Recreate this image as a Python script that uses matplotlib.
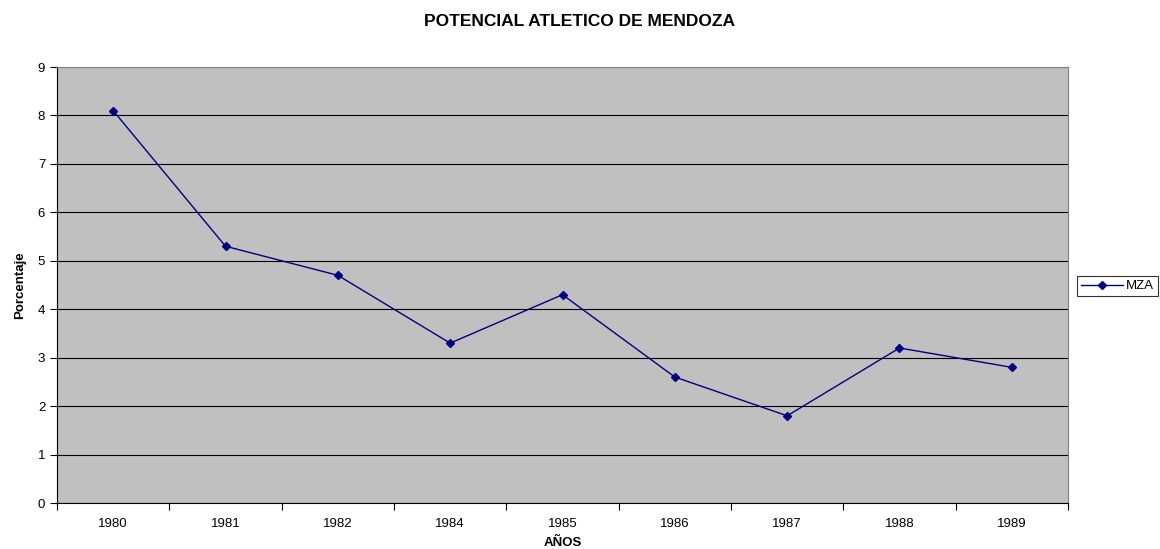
import matplotlib
matplotlib.use("Agg")
import matplotlib.pyplot as plt
import numpy as np

plt.rcParams["font.family"] = ["Liberation Sans", "DejaVu Sans"]

years = ["1980", "1981", "1982", "1984", "1985", "1986", "1987", "1988", "1989"]
mza = [8.1, 5.3, 4.7, 3.3, 4.3, 2.6, 1.8, 3.2, 2.8]

fig = plt.figure(figsize=(11.6, 5.49), dpi=100)
ax = fig.add_axes([57 / 1160, 1 - 503 / 549, 1011 / 1160, 436 / 549])
ax.set_facecolor("#C0C0C0")

x = np.arange(len(years))
ax.plot(x, mza, color="#000080", linewidth=1, marker="D", markersize=4.5, label="MZA")

ax.set_xlim(-0.5, len(years) - 0.5)
ax.set_ylim(0, 9)
ax.set_yticks(range(10))
ax.set_xticks(np.arange(-0.5, len(years)), minor=False)
ax.set_xticklabels([])
ax.set_xticks(x, minor=True)
ax.set_xticklabels(years, minor=True)
ax.tick_params(axis="x", which="minor", length=0, labelsize=9.5, pad=11)
ax.tick_params(axis="x", which="major", length=5, direction="out")
ax.tick_params(axis="y", labelsize=9.5, length=5, direction="out")
ax.yaxis.grid(True, color="#000000", linewidth=0.8)
ax.set_axisbelow(True)

for side in ["top", "right"]:
    ax.spines[side].set_color("#808080")
for side in ["left", "bottom"]:
    ax.spines[side].set_color("#000000")

ax.set_xlabel("AÑOS", fontsize=9.5, fontweight="bold", labelpad=5)
ax.set_ylabel("Porcentaje", fontsize=9.5, fontweight="bold", labelpad=8)
fig.suptitle("POTENCIAL ATLETICO DE MENDOZA", fontsize=12.5, fontweight="bold", y=0.975)

leg = ax.legend(loc="center left", bbox_to_anchor=(1.009, 0.497), fontsize=9.5,
                frameon=True, fancybox=False, borderpad=0.3, handlelength=3.2,
                handletextpad=0.2, borderaxespad=0)
leg.get_frame().set_edgecolor("#000000")
leg.get_frame().set_linewidth(0.8)

fig.savefig("out.png", dpi=100)
